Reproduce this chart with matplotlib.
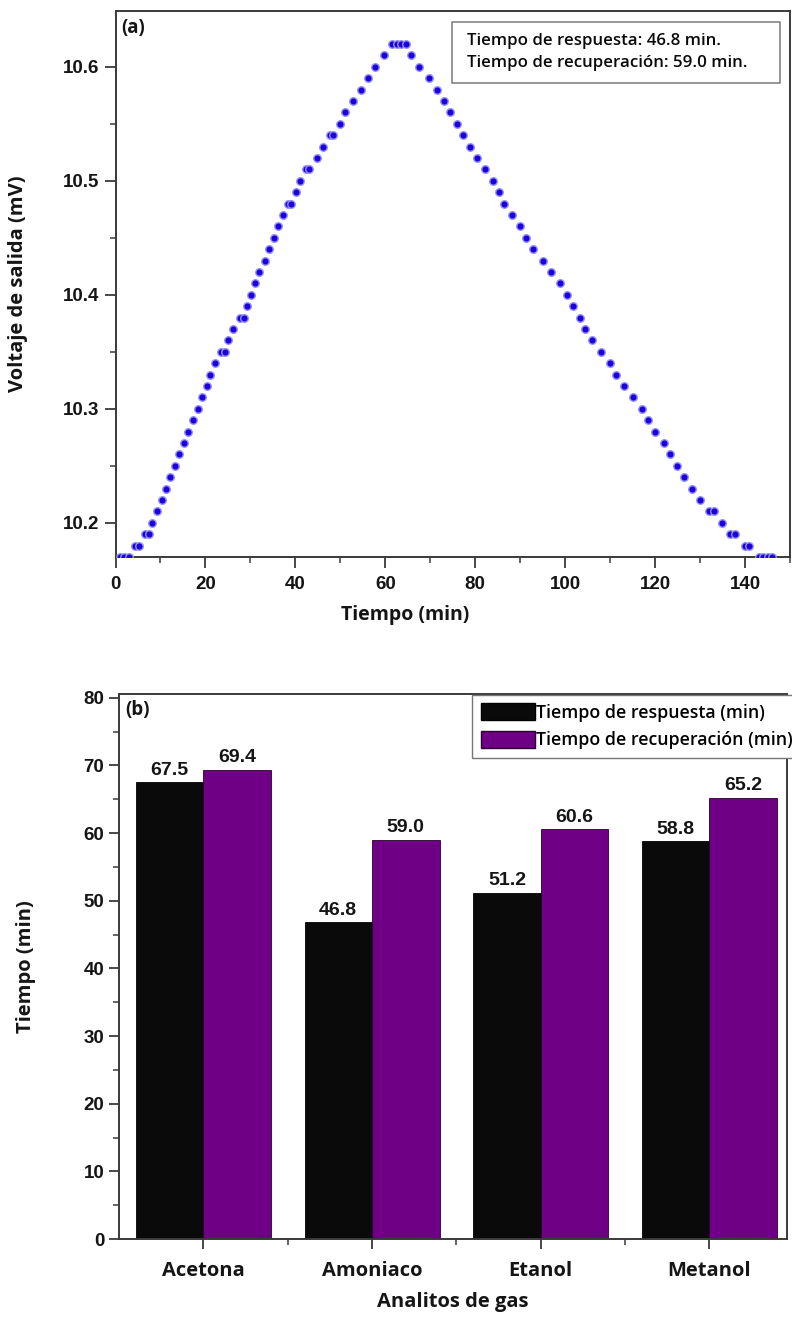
import matplotlib
matplotlib.use("Agg")
import matplotlib.pyplot as plt
from matplotlib.ticker import MultipleLocator, FixedLocator
from matplotlib.patches import Patch, Rectangle

# ---------------- data ----------------
# (a) voltage vs time (one point per 0.01 mV level)
tiempo_min = [1, 2, 3, 4.4, 5.3, 6.6, 7.5, 8.2, 9.3, 10.3, 11.3, 12.2, 13.3, 14.2, 15.3,
              16.2, 17.3, 18.3, 19.2, 20.3, 21.1, 22.2, 23.5, 24.4, 25.1, 26.2, 27.6,
              28.5, 29.2, 30.2, 31.0, 32.0, 33.3, 34.2, 35.3, 36.2, 37.3, 38.3, 39.1,
              40.2, 41.0, 42.3, 43.1, 44.8, 46.2, 47.6, 48.3, 49.9, 51.0, 52.8, 54.6,
              56.2, 57.7, 59.8, 61.5, 62.5, 63.5, 64.5,
              65.8, 67.5, 69.8, 71.4, 73.0, 74.4, 76.0, 77.3, 78.8, 80.4, 82.2, 84.0,
              85.3, 86.4, 88.1, 89.9, 91.4, 92.9, 95.0, 96.9, 98.9, 100.3, 101.8, 103.3,
              104.4, 105.9, 107.9, 109.9, 111.3, 113.0, 115.0, 117.0, 118.4, 119.9,
              121.9, 123.4, 124.9, 126.4, 128.1, 129.9, 132.0, 133.0, 134.8, 136.7,
              137.7, 139.9, 140.9, 143, 144, 145, 146]
voltaje_mV = [10.17, 10.17, 10.17, 10.18, 10.18, 10.19, 10.19, 10.20, 10.21, 10.22, 10.23,
              10.24, 10.25, 10.26, 10.27, 10.28, 10.29, 10.30, 10.31, 10.32, 10.33, 10.34,
              10.35, 10.35, 10.36, 10.37, 10.38, 10.38, 10.39, 10.40, 10.41, 10.42, 10.43,
              10.44, 10.45, 10.46, 10.47, 10.48, 10.48, 10.49, 10.50, 10.51, 10.51, 10.52,
              10.53, 10.54, 10.54, 10.55, 10.56, 10.57, 10.58, 10.59, 10.60, 10.61,
              10.62, 10.62, 10.62, 10.62,
              10.61, 10.60, 10.59, 10.58, 10.57, 10.56, 10.55, 10.54, 10.53, 10.52, 10.51,
              10.50, 10.49, 10.48, 10.47, 10.46, 10.45, 10.44, 10.43, 10.42, 10.41, 10.40,
              10.39, 10.38, 10.37, 10.36, 10.35, 10.34, 10.33, 10.32, 10.31, 10.30, 10.29,
              10.28, 10.27, 10.26, 10.25, 10.24, 10.23, 10.22, 10.21, 10.21, 10.20, 10.19,
              10.19, 10.18, 10.18, 10.17, 10.17, 10.17, 10.17]
texto_a = ["Tiempo de respuesta: 46.8 min.", "Tiempo de recuperación: 59.0 min."]

# (b) bar chart
analitos = ["Acetona", "Amoniaco", "Etanol", "Metanol"]
t_respuesta = [67.5, 46.8, 51.2, 58.8]
t_recuperacion = [69.4, 59.0, 60.6, 65.2]
series_labels = ["Tiempo de respuesta (min)", "Tiempo de recuperación (min)"]

# ---------------- figure ----------------
W, H = 792, 1324
fig = plt.figure(figsize=(W / 100, H / 100), dpi=100)

NUM = ["Liberation Sans", "DejaVu Sans"]
LBL = ["Open Sans", "DejaVu Sans"]
SPC = "#3a3a3a"
TXT = "#151515"

def px_axes(l, t, r, b):
    return fig.add_axes([l / W, 1 - b / H, (r - l) / W, (b - t) / H])

# ---- panel (a) ----
ax1 = px_axes(115.5, 11, 790, 557)
ax1.plot(tiempo_min, voltaje_mV, linestyle="none", marker="o", ms=5.4,
         mfc="#1e00d8", mec="#9090ff", mew=1.0, clip_on=True, zorder=3)
ax1.set_xlim(0, 150)
ax1.set_ylim(10.17, 10.649)
ax1.xaxis.set_major_locator(MultipleLocator(20))
ax1.xaxis.set_minor_locator(MultipleLocator(10))
ax1.yaxis.set_minor_locator(MultipleLocator(0.05))
ax1.set_yticks([10.2, 10.3, 10.4, 10.5, 10.6])
ax1.set_yticklabels(["10.2", "10.3", "10.4", "10.5", "10.6"])
ax1.tick_params(which="major", length=8, width=1.3, color=SPC, direction="out",
                top=False, right=False, pad=4)
ax1.tick_params(axis="x", which="major", pad=6)
ax1.tick_params(which="minor", length=4.5, width=1.1, color=SPC, direction="out",
                top=False, right=False)
for lab in ax1.get_xticklabels() + ax1.get_yticklabels():
    lab.set_family(NUM)
    lab.set_fontweight("bold")
    lab.set_fontsize(13.5)
    lab.set_color(TXT)
for sp in ax1.spines.values():
    sp.set_linewidth(1.4)
    sp.set_color(SPC)
ax1.set_xlabel("Tiempo (min)", family=LBL, fontweight="bold", fontsize=14, color=TXT)
ax1.set_ylabel("Voltaje de salida (mV)", family=LBL, fontweight="bold", fontsize=14.5, color=TXT)
ax1.xaxis.set_label_coords(0.43, -0.088)
ax1.yaxis.set_label_coords(-0.13, 0.5)
ax1.text(0.008, 0.988, "(a)", transform=ax1.transAxes, ha="left", va="top",
         family=LBL, fontweight="bold", fontsize=13.5, color=TXT)
# info box
bx0, bx1 = (452 - 115.5) / (790 - 115.5), (780 - 115.5) / (790 - 115.5)
by1, by0 = (557 - 22) / (557 - 11), (557 - 83) / (557 - 11)
ax1.add_patch(Rectangle((bx0, by0), bx1 - bx0, by1 - by0, transform=ax1.transAxes,
                        facecolor="white", edgecolor="#7a7a7a", lw=1.1, zorder=4))
ax1.text((467 - 115.5) / (790 - 115.5), (557 - 52) / (557 - 11),
         texto_a[0] + "\n" + texto_a[1], transform=ax1.transAxes,
         ha="left", va="center", family=LBL, fontweight="semibold", fontsize=12.2,
         color="#0a0a0a", linespacing=1.45, zorder=5)

# ---- panel (b) ----
ax2 = px_axes(119, 693.5, 787, 1239)
xpos = list(range(1, len(analitos) + 1))
bw = 0.4
b1 = ax2.bar([x - bw / 2 for x in xpos], t_respuesta, width=bw, color="#0a0a0a",
             edgecolor="#000000", linewidth=0.6, label=series_labels[0], zorder=2)
b2 = ax2.bar([x + bw / 2 for x in xpos], t_recuperacion, width=bw, color="#6f0085",
             edgecolor="#2a0030", linewidth=0.6, label=series_labels[1], zorder=2)
for bars, vals in ((b1, t_respuesta), (b2, t_recuperacion)):
    for rect, v in zip(bars, vals):
        ax2.annotate(f"{v:.1f}", (rect.get_x() + rect.get_width() / 2, rect.get_height()),
                     xytext=(0, 2.5), textcoords="offset points", ha="center", va="bottom",
                     family=NUM, fontweight="bold", fontsize=14, color=TXT)
ax2.set_xlim(0.5, 4.46)
ax2.set_ylim(0, 80.64)
ax2.yaxis.set_major_locator(MultipleLocator(10))
ax2.yaxis.set_minor_locator(MultipleLocator(5))
ax2.set_xticks(xpos)
ax2.set_xticklabels(analitos)
ax2.xaxis.set_minor_locator(FixedLocator([1.5, 2.5, 3.5]))
ax2.tick_params(which="major", length=7, width=1.3, color=SPC, direction="out",
                top=False, right=False)
ax2.tick_params(which="minor", length=4, width=1.1, color=SPC, direction="out",
                top=False, right=False)
ax2.tick_params(axis="x", which="major", pad=9)
for lab in ax2.get_yticklabels():
    lab.set_family(NUM)
    lab.set_fontweight("bold")
    lab.set_fontsize(13.5)
    lab.set_color(TXT)
for lab in ax2.get_xticklabels():
    lab.set_family(LBL)
    lab.set_fontweight("bold")
    lab.set_fontsize(14.5)
    lab.set_color(TXT)
for sp in ax2.spines.values():
    sp.set_linewidth(1.4)
    sp.set_color(SPC)
ax2.set_xlabel("Analitos de gas", family=LBL, fontweight="bold", fontsize=14.5,
               color=TXT, labelpad=8)
ax2.set_ylabel("Tiempo (min)", family=LBL, fontweight="bold", fontsize=14.5, color=TXT)
ax2.yaxis.set_label_coords(-0.125, 0.5)
ax2.text(0.01, 0.988, "(b)", transform=ax2.transAxes, ha="left", va="top",
         family=LBL, fontweight="bold", fontsize=13.5, color=TXT)
handles = [Patch(facecolor="#0a0a0a", edgecolor="#000000"),
           Patch(facecolor="#6f0085", edgecolor="#2a0030")]
leg = ax2.legend(handles, series_labels, loc="upper left",
                 bbox_to_anchor=((472 - 119) / (787 - 119), 1 - 1.0 / (1239 - 693.5)),
                 frameon=True, fancybox=False, edgecolor="#777777", framealpha=1,
                 prop=dict(family=LBL, weight="semibold", size=12.8),
                 handlelength=3.05, handleheight=1.1, handletextpad=0.05,
                 borderpad=0.5, labelspacing=0.5, borderaxespad=0)
leg.get_frame().set_linewidth(1.0)
leg.set_clip_on(False)

fig.savefig("out.png", dpi=100, facecolor="white")
